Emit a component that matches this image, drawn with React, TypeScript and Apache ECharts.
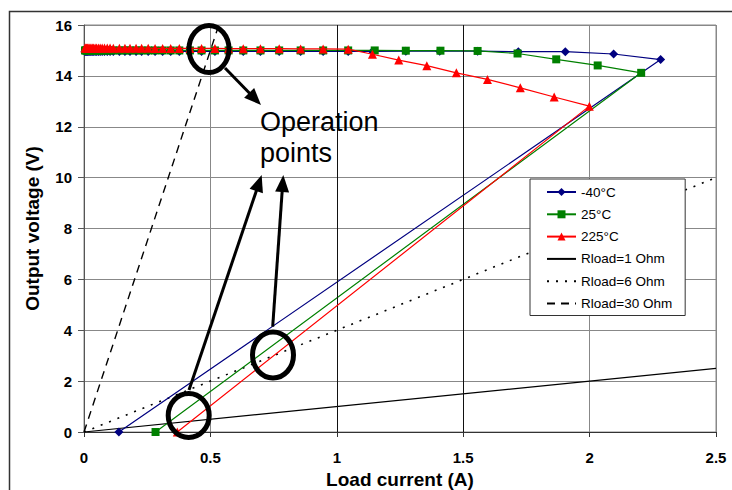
import React, { useEffect, useRef } from "react";
import * as echarts from "echarts";

// Shared load currents along the top (regulated) part of the curves (A)
const topCurrent = [
  0.004, 0.007, 0.010, 0.013, 0.016, 0.020, 0.024, 0.028, 0.033, 0.038,
  0.044, 0.050, 0.057, 0.064, 0.072, 0.081, 0.092, 0.103, 0.116,
  0.140, 0.162, 0.182, 0.206, 0.228, 0.254, 0.281, 0.311, 0.343, 0.377,
  0.419, 0.465, 0.518, 0.572, 0.630, 0.698, 0.772, 0.857, 0.946, 1.045,
];
const topVoltM40 = [
  14.96, 14.96, 14.96, 14.96, 14.96, 14.96, 14.96, 14.96, 14.96, 14.96,
  14.96, 14.96, 14.96, 14.96, 14.96, 14.96, 14.96, 14.96, 14.96,
  14.96, 14.96, 14.96, 14.96, 14.96, 14.96, 14.96, 14.96, 14.96, 14.96,
  14.96, 14.96, 14.96, 14.96, 14.96, 14.96, 14.96, 14.96, 14.96, 14.96,
];
const topVolt25 = [
  15.0, 15.0, 15.0, 15.0, 15.0, 15.0, 15.0, 15.0, 15.0, 15.0,
  15.0, 15.0, 15.0, 15.0, 15.0, 15.0, 15.0, 15.0, 15.0,
  15.0, 15.0, 15.0, 15.0, 15.0, 15.0, 15.0, 15.0, 15.0, 15.0,
  15.0, 15.0, 15.0, 15.0, 15.0, 15.0, 15.0, 15.0, 15.0, 15.0,
];
const topVolt225 = [
  15.1, 15.1, 15.1, 15.1, 15.1, 15.1, 15.1, 15.1, 15.1, 15.1,
  15.1, 15.1, 15.1, 15.1, 15.1, 15.1, 15.1, 15.1, 15.09,
  15.09, 15.09, 15.09, 15.09, 15.09, 15.09, 15.08, 15.08, 15.08, 15.08,
  15.08, 15.08, 15.08, 15.07, 15.07, 15.07, 15.07, 15.06, 15.06, 15.05,
];

// Fold-back part of each curve, ending at the short-circuit point
const tailCurrentM40 = [1.141, 1.273, 1.407, 1.557, 1.718, 1.904, 2.095, 2.281, 0.138];
const tailVoltM40 = [14.96, 14.97, 14.97, 14.97, 14.95, 14.95, 14.86, 14.64, 0];
const tailCurrent25 = [1.150, 1.273, 1.410, 1.557, 1.715, 1.868, 2.032, 2.204, 0.283];
const tailVolt25 = [15.0, 14.99, 14.99, 14.98, 14.88, 14.65, 14.41, 14.12, 0];
const tailCurrent225 = [1.141, 1.245, 1.356, 1.473, 1.596, 1.726, 1.860, 1.999, 0.369];
const tailVolt225 = [14.85, 14.62, 14.40, 14.12, 13.86, 13.53, 13.17, 12.81, 0];

// Load lines
const r1Current = [0, 2.5];
const r1Volt = [0, 2.5];
const r6Current = [0, 2.5];
const r6Volt = [0, 10];
const r30Current = [0, 0.54];
const r30Volt = [0, 16.2];

// Gridlines that appear darker in the original
const darkGridX = [1, 1.5];

const xTicks = { min: 0, max: 2.5, interval: 0.5 };
const yTicks = { min: 0, max: 16, interval: 2 };

const seriesNames = ["-40°C", "25°C", "225°C", "Rload=1 Ohm", "Rload=6 Ohm", "Rload=30 Ohm"];

function pairs(xs: number[], ys: number[]) {
  return xs.map((x, i) => [x, ys[i]]);
}

function arrow(x1: number, y1: number, x2: number, y2: number) {
  const dx = x2 - x1;
  const dy = y2 - y1;
  const len = Math.sqrt(dx * dx + dy * dy);
  const ux = dx / len;
  const uy = dy / len;
  const headLen = 17;
  const halfW = 7;
  const bx = x2 - ux * headLen;
  const by = y2 - uy * headLen;
  const px = -uy * halfW;
  const py = ux * halfW;
  return [
    {
      type: "line",
      shape: { x1, y1, x2: bx + ux * 2, y2: by + uy * 2 },
      style: { stroke: "#000", lineWidth: 3 },
      z: 100,
    },
    {
      type: "polygon",
      shape: { points: [[x2, y2], [bx + px, by + py], [bx - px, by - py]] },
      style: { fill: "#000" },
      z: 100,
    },
  ];
}

function ring(cx: number, cy: number, rx: number, ry: number) {
  return {
    type: "ellipse",
    shape: { cx, cy, rx, ry },
    style: { fill: "none", stroke: "#000", lineWidth: 5 },
    z: 100,
  };
}

export default function App() {
  const ref = useRef<HTMLDivElement>(null);

  useEffect(() => {
    if (!ref.current) return;
    const chart = echarts.init(ref.current, undefined, { renderer: "svg" });
    const font = "'Liberation Sans', Arial, Helvetica, sans-serif";

    const option: any = {
      animation: false,
      backgroundColor: "#fff",
      textStyle: { fontFamily: font },
      grid: {
        left: 84,
        top: 25,
        right: 16,
        bottom: 58,
        containLabel: false,
        outerBoundsMode: "none",
        show: true,
        borderColor: "#888",
        borderWidth: 1,
        backgroundColor: "transparent",
      },
      legend: {
        data: [
          { name: seriesNames[0] },
          { name: seriesNames[1] },
          { name: seriesNames[2] },
          { name: seriesNames[3], itemStyle: { opacity: 0 } },
          { name: seriesNames[4], itemStyle: { opacity: 0 } },
          { name: seriesNames[5], itemStyle: { opacity: 0 } },
        ],
        orient: "vertical",
        left: 530,
        top: 179,
        itemWidth: 29,
        itemHeight: 10,
        itemGap: 8.3,
        padding: [6, 13, 5, 16],
        backgroundColor: "#fff",
        borderColor: "#333",
        borderWidth: 1,
        borderRadius: 0,
        textStyle: { fontFamily: font, fontSize: 13.5, color: "#000", padding: [0, 0, 0, 0] },
      },
      xAxis: {
        type: "value",
        min: xTicks.min,
        max: xTicks.max,
        interval: xTicks.interval,
        name: "Load current (A)",
        nameLocation: "middle",
        nameGap: 36,
        nameTextStyle: { fontFamily: font, fontSize: 19, fontWeight: "bold", color: "#000" },
        axisLine: { show: true, onZero: false, lineStyle: { color: "#333", width: 1 } },
        axisTick: { show: true, inside: false, length: 5, lineStyle: { color: "#333" } },
        axisLabel: { margin: 18, fontFamily: font, fontSize: 15, fontWeight: "bold", color: "#000" },
        splitLine: { show: true, lineStyle: { color: "#888", width: 1 } },
      },
      yAxis: {
        type: "value",
        min: yTicks.min,
        max: yTicks.max,
        interval: yTicks.interval,
        name: "Output voltage (V)",
        nameLocation: "middle",
        nameGap: 42,
        nameRotate: 90,
        nameTextStyle: { fontFamily: font, fontSize: 19, fontWeight: "bold", color: "#000" },
        axisLine: { show: true, onZero: false, lineStyle: { color: "#555", width: 1 } },
        axisTick: { show: true, inside: false, length: 6, lineStyle: { color: "#555" } },
        axisLabel: { margin: 12, fontFamily: font, fontSize: 15, fontWeight: "bold", color: "#000" },
        splitLine: { show: true, lineStyle: { color: "#888", width: 1 } },
      },
      series: [
        {
          name: seriesNames[3],
          type: "line",
          data: pairs(r1Current, r1Volt),
          symbol: "none",
          lineStyle: { color: "#000", width: 1.2, type: "solid" },
          itemStyle: { color: "#000" },
          z: 2,
          markLine: {
            silent: true,
            symbol: "none",
            label: { show: false },
            lineStyle: { color: "#111", width: 1, type: "solid" },
            data: darkGridX.map((v) => ({ xAxis: v })),
          },
        },
        {
          name: seriesNames[4],
          type: "line",
          data: pairs(r6Current, r6Volt),
          symbol: "none",
          lineStyle: { color: "#000", width: 1.6, type: [2, 7] },
          itemStyle: { color: "#000" },
          z: 2,
        },
        {
          name: seriesNames[5],
          type: "line",
          data: pairs(r30Current, r30Volt),
          symbol: "none",
          clip: false,
          lineStyle: { color: "#000", width: 1.4, type: [8, 6] },
          itemStyle: { color: "#000" },
          z: 2,
        },
        {
          name: seriesNames[0],
          type: "line",
          data: pairs(topCurrent.concat(tailCurrentM40), topVoltM40.concat(tailVoltM40)),
          symbol: "diamond",
          symbolSize: 9,
          lineStyle: { color: "#000080", width: 1.2 },
          itemStyle: { color: "#000080" },
          z: 3,
        },
        {
          name: seriesNames[1],
          type: "line",
          data: pairs(topCurrent.concat(tailCurrent25), topVolt25.concat(tailVolt25)),
          symbol: "rect",
          symbolSize: 8,
          lineStyle: { color: "#008000", width: 1.2 },
          itemStyle: { color: "#008000" },
          z: 4,
        },
        {
          name: seriesNames[2],
          type: "line",
          data: pairs(topCurrent.concat(tailCurrent225), topVolt225.concat(tailVolt225)),
          symbol: "triangle",
          symbolSize: 9,
          lineStyle: { color: "#ff0000", width: 1.2 },
          itemStyle: { color: "#ff0000" },
          z: 5,
        },
      ],
      graphic: [
        {
          type: "rect",
          shape: { x: 9.5, y: 11.5, width: 800, height: 600 },
          style: { fill: "none", stroke: "#333", lineWidth: 1.5 },
          z: 0,
        },
        ring(209, 49, 20, 23.5),
        ring(273, 355, 20.5, 23),
        ring(188.7, 415.5, 20.5, 22),
        ...arrow(225, 68, 261, 105),
        ...arrow(189, 390, 261.7, 175),
        ...arrow(272.7, 326.7, 283.3, 175),
        {
          type: "text",
          x: 260,
          y: 122,
          style: {
            text: "Operation",
            fontFamily: font,
            fontSize: 27,
            fill: "#000",
            align: "left",
            verticalAlign: "middle",
          },
          z: 100,
        },
        {
          type: "text",
          x: 260,
          y: 153,
          style: {
            text: "points",
            fontFamily: font,
            fontSize: 27,
            fill: "#000",
            align: "left",
            verticalAlign: "middle",
          },
          z: 100,
        },
      ],
    };

    chart.setOption(option);
    return () => {
      chart.dispose();
    };
  }, []);

  return (
    <div
      ref={ref}
      style={{ position: "absolute", left: 0, top: 0, width: 732, height: 490 }}
    />
  );
}
